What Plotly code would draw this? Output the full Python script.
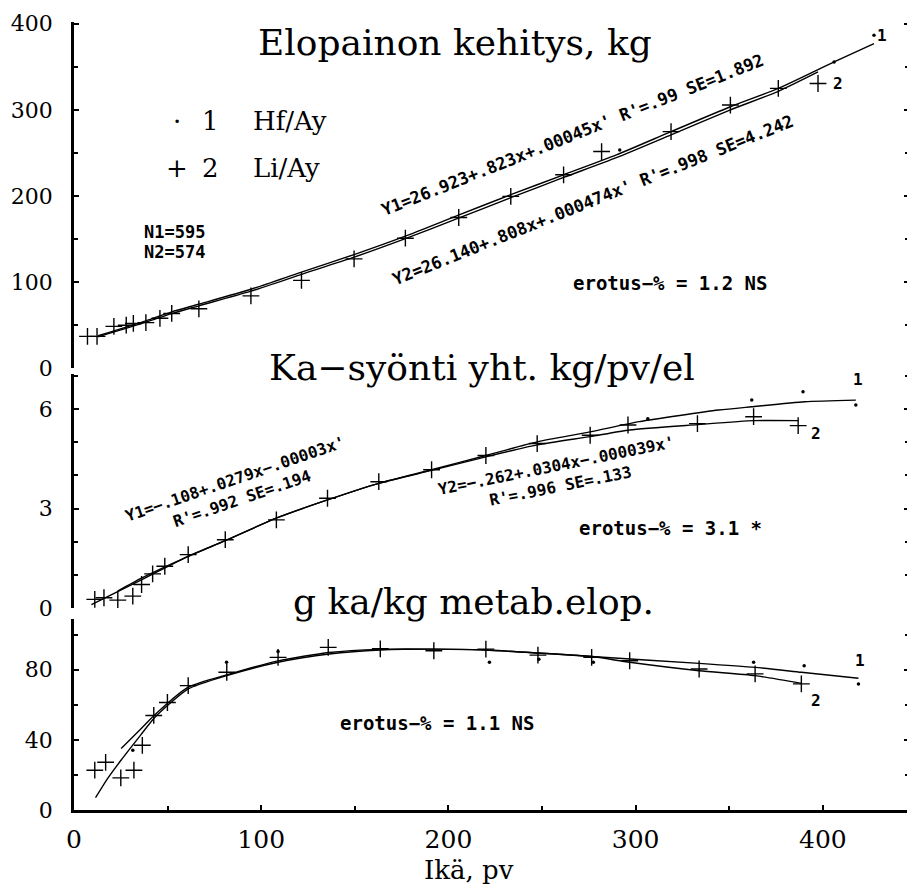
import plotly.graph_objects as go

# ---------------- data ----------------
x_ticks = [0, 100, 200, 300, 400]

# Panel 1: Elopainon kehitys, kg
w_age2 = [7.2, 12.3, 21.3, 27.9, 31.7, 38.4, 45.9, 52.2, 66.7, 94.5, 121.5, 149.6,
          177, 205.5, 233.3, 261.5, 281.8, 318.9, 350.6, 376.2, 397.4]
w_val2 = [37, 37, 48.6, 50, 52, 53, 58, 63.6, 69, 84, 102, 127,
          151, 175, 199.6, 224.6, 251.6, 274.7, 305.6, 324.9, 330.6]
w_age1 = [291.5, 406, 427.3]
w_val1 = [253.5, 355.7, 386.5]
w_fit1_x = [12.9, 38.4, 52.2, 66.7, 94.5, 121.5, 149.6, 177, 205, 233.3, 261.5,
            289.7, 318.9, 350.6, 376.2, 406, 427.3]
w_fit1_y = [37.7, 55, 65.5, 74.4, 91.7, 111.7, 132, 153.4, 177.5, 201.5, 224.6,
            247.7, 274.7, 303.6, 324.9, 355.7, 376.9]
w_fit2_x = [12.9, 38.4, 52.2, 66.7, 94.5, 121.5, 149.6, 177, 205, 233.3, 261.5,
            289.7, 318.9, 350.6, 376.2, 397.4]
w_fit2_y = [36.5, 53.5, 63.5, 72.5, 89.5, 109, 129, 150.5, 174, 198, 221.5,
            244.5, 271, 300, 321.5, 344]

# Panel 2: Ka-syonti yht. kg/pv/el
f_age2 = [11.1, 16, 23.4, 31.4, 36.1, 42, 48.5, 61, 80.8, 108.1, 135.4, 162.8,
          191, 220, 247.4, 275.7, 295.9, 333, 363, 386.8]
f_val2 = [0.26, 0.31, 0.24, 0.36, 0.71, 1.03, 1.26, 1.61, 2.06, 2.66, 3.31, 3.81,
          4.17, 4.6, 4.96, 5.21, 5.52, 5.56, 5.77, 5.5]
f_age1 = [306.5, 362, 389.4, 417.6]
f_val1 = [5.71, 6.27, 6.52, 6.12]
f_fit1_x = [9.3, 36, 61, 80.8, 108, 135.4, 162.8, 191, 220, 247.4, 275.7, 302,
            344.4, 362, 390.3, 417.6]
f_fit1_y = [0.1, 0.85, 1.56, 2.03, 2.71, 3.26, 3.76, 4.17, 4.6, 5.01, 5.31, 5.62,
            5.97, 6.07, 6.22, 6.27]
f_fit2_x = [23.3, 36, 61, 80.8, 108, 135.4, 162.8, 191, 220, 247.4, 275.7, 296.8,
            333, 363, 386.8]
f_fit2_y = [0.51, 0.9, 1.56, 2.03, 2.71, 3.26, 3.76, 4.15, 4.56, 4.92, 5.17, 5.37,
            5.53, 5.65, 5.65]

# Panel 3: g ka/kg metab.elop.
e_age2 = [11.1, 16.9, 25, 32, 36.5, 42.6, 49.9, 61, 81.6, 109, 135.8, 163.6,
          192.2, 220, 247.8, 276.5, 296.8, 333.9, 363.8, 388.5]
e_val2 = [22.7, 27.2, 18.3, 22.7, 36.9, 53.9, 61.3, 70.9, 78.5, 87, 92.7, 91.9,
          90.8, 91.7, 88.3, 87, 85.1, 80.4, 77.6, 71.9]
e_age1 = [31.4, 81.5, 109, 221.9, 248.3, 277.4, 363, 390, 419]
e_val1 = [34, 84.2, 90.4, 84.2, 86, 84.2, 84.2, 82.3, 71.9]
e_fit1_x = [11.5, 18, 25.2, 35.8, 42.9, 61, 81.6, 109, 136.3, 163.6, 192, 220,
            247.8, 276.5, 333.9, 363.8, 388.5, 419]
e_fit1_y = [7, 18, 28.5, 43, 52.5, 69, 76.6, 84.2, 88.9, 91.2, 91.7, 91.2,
            89.5, 87.5, 83.6, 81.3, 78.5, 75.1]
e_fit2_x = [25.2, 35.8, 42.9, 61, 81.6, 109, 136.3, 163.6, 192, 220, 247.8,
            276.5, 296.8, 333.9, 363.8, 388.5]
e_fit2_y = [35, 46.3, 54, 70, 77, 85, 89.8, 91.6, 91.7, 91.2, 89.5, 87.5,
            84.2, 79.4, 76.6, 72.2]

# ---------------- figure ----------------
SERIF = "DejaVu Serif"
DOT = "DejaVu Sans Mono"
fig = go.Figure()

def line(x, y, ax):
    fig.add_trace(go.Scatter(x=x, y=y, yaxis=ax, mode="lines", hoverinfo="skip",
                             line=dict(color="black", width=1.4, shape="spline", smoothing=0.6)))

def plus(x, y, ax):
    fig.add_trace(go.Scatter(x=x, y=y, yaxis=ax, mode="markers",
                             marker=dict(symbol="cross-thin", size=12, color="black",
                                         line=dict(color="black", width=1.4))))

def dots(x, y, ax):
    fig.add_trace(go.Scatter(x=x, y=y, yaxis=ax, mode="markers",
                             marker=dict(symbol="circle", size=3.5, color="black")))

line(w_fit1_x, w_fit1_y, "y3"); line(w_fit2_x, w_fit2_y, "y3")
plus(w_age2, w_val2, "y3"); dots(w_age1, w_val1, "y3")
line(f_fit1_x, f_fit1_y, "y2"); line(f_fit2_x, f_fit2_y, "y2")
plus(f_age2, f_val2, "y2"); dots(f_age1, f_val1, "y2")
line(e_fit1_x, e_fit1_y, "y"); line(e_fit2_x, e_fit2_y, "y")
plus(e_age2, e_val2, "y"); dots(e_age1, e_val1, "y")

def yax(domain, rng, tv, minor):
    return dict(domain=domain, range=rng, anchor="x", tickvals=tv, ticktext=[str(v) for v in tv],
                showline=True, linecolor="black", linewidth=2.5, mirror="ticks",
                ticks="inside", ticklen=5, tickwidth=2, tickcolor="black",
                minor=dict(dtick=minor, ticks="inside", ticklen=4, tickwidth=2, tickcolor="black"),
                showgrid=False, zeroline=False, ticklabelstandoff=14,
                ticklabeloverflow="allow",
                tickfont=dict(family=SERIF, size=22, color="black"))

# the page body adds an 8px margin, so the figure is sized to fit inside it
fig.update_layout(
    width=907, height=879, showlegend=False,
    paper_bgcolor="white", plot_bgcolor="white",
    margin=dict(l=61, r=3, t=10, b=77),
    xaxis=dict(range=[0, 446], anchor="y", tickvals=x_ticks, showline=True,
               linecolor="black", linewidth=2.5, ticks="inside", ticklen=5, tickwidth=2,
               tickcolor="black", minor=dict(dtick=50, ticks="inside", ticklen=4, tickwidth=2),
               showgrid=False, zeroline=False, ticklabelstandoff=5,
               tickfont=dict(family=SERIF, size=25, color="black")),
    yaxis=yax([0, 0.2424], [0, 108.9], [0, 40, 80], 20),
    yaxis2=yax([0.2563, 0.5530], [0, 7.05], [0, 3, 6], 1),
    yaxis3=yax([0.5606, 1.0], [0, 402], [0, 100, 200, 300, 400], 50),
)

def ann(text, x, y, xref, yref, size, family, angle=0, xanchor="center", bold=False):
    fig.add_annotation(text=text, x=x, y=y, xref=xref, yref=yref, showarrow=False,
                       textangle=angle, xanchor=xanchor, yanchor="middle", align="center",
                       font=dict(family=family, size=size, color="black",
                                 weight="bold" if bold else "normal"))

# titles
ann("Elopainon kehitys, kg", 0.4561, 0.974, "paper", "paper", 36, SERIF)
ann("Ka−syönti yht. kg/pv/el", 0.4887, 0.561, "paper", "paper", 36, SERIF)
ann("g ka/kg metab.elop.", 0.4786, 0.265, "paper", "paper", 36, SERIF)
ann("Ikä, pv", 0.473, -0.0765, "paper", "paper", 26, SERIF)

# legend
ann("·", 55, 286.7, "x", "y3", 26, SERIF)
ann("1", 73, 286.7, "x", "y3", 26, SERIF)
ann("Hf/Ay", 94.7, 286.7, "x", "y3", 26, SERIF, xanchor="left")
ann("+", 55, 232.4, "x", "y3", 26, SERIF)
ann("2", 73, 232.4, "x", "y3", 26, SERIF)
ann("Li/Ay", 94.7, 232.4, "x", "y3", 26, SERIF, xanchor="left")
ann("N1=595", 36.5, 158.5, "x", "y3", 17, DOT, xanchor="left", bold=True)
ann("N2=574", 36.5, 135.5, "x", "y3", 17, DOT, xanchor="left", bold=True)

# panel 1 texts
ann("Y1=26.923+.823x+.00045x' R'=.99 SE=1.892", 266.1, 270.5, "x", "y3", 17, DOT, -21.7, bold=True)
ann("Y2=26.140+.808x+.000474x' R'=.998 SE=4.242", 277.2, 195.4, "x", "y3", 17, DOT, -21.8, bold=True)
ann("erotus−% = 1.2 NS", 318.5, 99.4, "x", "y3", 19, DOT, bold=True)
ann("1", 431.7, 386, "x", "y3", 16, DOT, bold=True)
ann("2", 407.9, 330.6, "x", "y3", 16, DOT, bold=True)

# panel 2 texts
ann("Y1=−.108+.0279x−.00003x'<br>R'=.992 SE=.194", 87.8, 3.6, "x", "y2", 16, DOT, -19, bold=True)
ann("Y2=−.262+.0304x−.000039x'<br>R'=.996 SE=.133", 258.7, 3.98, "x", "y2", 16, DOT, -11.5, bold=True)
ann("erotus−% = 3.1 *", 318.5, 2.4, "x", "y2", 19, DOT, bold=True)
ann("1", 419, 6.9, "x", "y2", 16, DOT, bold=True)
ann("2", 396.3, 5.26, "x", "y2", 16, DOT, bold=True)

# panel 3 texts
ann("erotus−% = 1.1 NS", 193.7, 49.4, "x", "y", 19, DOT, bold=True)
ann("1", 420, 85.1, "x", "y", 16, DOT, bold=True)
ann("2", 396.3, 62.4, "x", "y", 16, DOT, bold=True)

fig.write_html("out.html")
